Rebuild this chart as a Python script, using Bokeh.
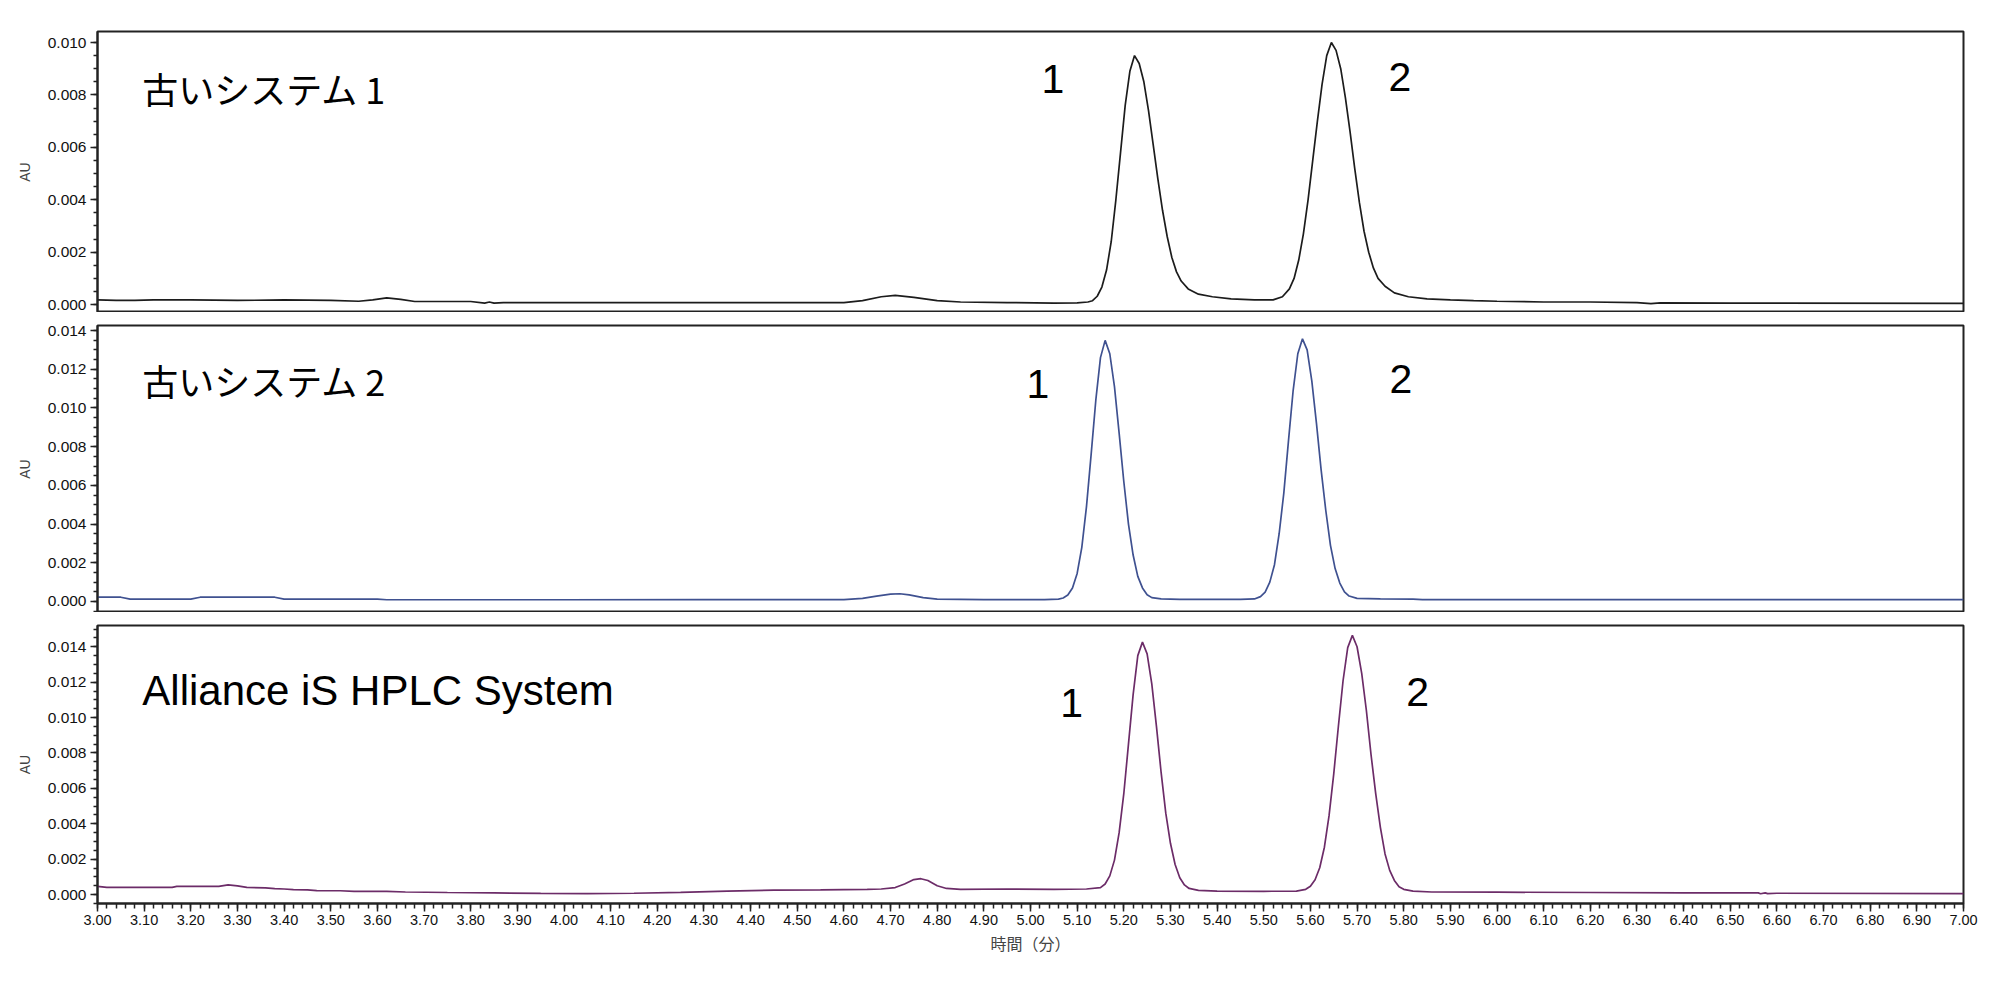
from bokeh.plotting import figure
from bokeh.layouts import column
from bokeh.models import Range1d, SingleIntervalTicker, NumeralTickFormatter, Label
from bokeh.embed import file_html
from bokeh.resources import INLINE

# ---------------- data ----------------
panel_titles = ["古いシステム 1", "古いシステム 2", "Alliance iS HPLC System"]
x_label = "時間（分）"
y_label = "AU"
peak_names = ["1", "2"]

t_old1 = [3.00, 3.04, 3.08, 3.12, 3.20, 3.30, 3.40, 3.50, 3.56, 3.59, 3.62, 3.65, 3.68, 3.80,
          3.83, 3.84, 3.85, 3.87, 4.00, 4.30, 4.60, 4.64, 4.68, 4.71, 4.75, 4.80, 4.85, 4.95,
          5.05, 5.10, 5.123, 5.133, 5.143, 5.153, 5.163, 5.173, 5.183, 5.193, 5.203, 5.213,
          5.223, 5.233, 5.243, 5.253, 5.263, 5.273, 5.283, 5.293, 5.303, 5.313, 5.323, 5.338,
          5.36, 5.39, 5.43, 5.48, 5.52, 5.54, 5.555, 5.565, 5.575, 5.585, 5.595, 5.605, 5.615,
          5.625, 5.635, 5.645, 5.655, 5.665, 5.675, 5.685, 5.695, 5.705, 5.715, 5.725, 5.735,
          5.745, 5.76, 5.78, 5.81, 5.85, 5.90, 5.95, 6.00, 6.10, 6.20, 6.30, 6.33, 6.35, 6.50, 7.00]
au_old1 = [0.00018, 0.00016, 0.00016, 0.00018, 0.00018, 0.00016, 0.00018, 0.00016, 0.00013,
           0.00018, 0.00026, 0.00020, 0.00012, 0.00012, 0.00006, 0.00010, 0.00006, 0.00008,
           0.00008, 0.00008, 0.00008, 0.00015, 0.00030, 0.00035, 0.00028, 0.00015, 0.00010,
           0.00008, 0.00006, 0.00007, 0.00010, 0.00015, 0.00032, 0.00067, 0.00132, 0.00240,
           0.00400, 0.00580, 0.00760, 0.00890, 0.00950, 0.00920, 0.00850, 0.00740, 0.00610,
           0.00480, 0.00360, 0.00260, 0.00180, 0.00125, 0.00090, 0.00060, 0.00040, 0.00030,
           0.00022, 0.00018, 0.00018, 0.00030, 0.00060, 0.00100, 0.00170, 0.00270, 0.00400,
           0.00550, 0.00700, 0.00840, 0.00950, 0.01000, 0.00970, 0.00900, 0.00790, 0.00660,
           0.00520, 0.00390, 0.00280, 0.00200, 0.00140, 0.00100, 0.00070, 0.00045, 0.00030,
           0.00022, 0.00018, 0.00015, 0.00013, 0.00010, 0.00010, 0.00008, 0.00004, 0.00007,
           0.00006, 0.00005]

t_old2 = [3.00, 3.05, 3.07, 3.20, 3.22, 3.38, 3.40, 3.60, 3.62, 4.00, 4.30, 4.60, 4.64, 4.67,
          4.70, 4.72, 4.74, 4.77, 4.80, 4.90, 5.03, 5.06, 5.07, 5.08, 5.09, 5.10, 5.11, 5.12,
          5.13, 5.14, 5.15, 5.16, 5.17, 5.18, 5.19, 5.20, 5.21, 5.22, 5.23, 5.24, 5.25, 5.26,
          5.28, 5.32, 5.45, 5.48, 5.493, 5.503, 5.513, 5.523, 5.533, 5.543, 5.553, 5.563, 5.573,
          5.583, 5.593, 5.603, 5.613, 5.623, 5.633, 5.643, 5.653, 5.663, 5.673, 5.683, 5.70,
          5.75, 5.82, 5.84, 6.30, 7.00]
au_old2 = [0.00022, 0.00022, 0.00012, 0.00012, 0.00022, 0.00022, 0.00012, 0.00012, 0.00009,
           0.00009, 0.00010, 0.00010, 0.00016, 0.00028, 0.00038, 0.00040, 0.00034, 0.00020,
           0.00012, 0.00010, 0.00010, 0.00012, 0.00018, 0.00033, 0.00070, 0.00145, 0.00280,
           0.00490, 0.00760, 0.01040, 0.01260, 0.01349, 0.01280, 0.01110, 0.00870, 0.00620,
           0.00400, 0.00240, 0.00130, 0.00070, 0.00035, 0.00020, 0.00013, 0.00011, 0.00011,
           0.00013, 0.00025, 0.00048, 0.00100, 0.00190, 0.00350, 0.00560, 0.00830, 0.01090,
           0.01280, 0.01357, 0.01300, 0.01140, 0.00920, 0.00680, 0.00470, 0.00290, 0.00170,
           0.00095, 0.00050, 0.00028, 0.00016, 0.00013, 0.00012, 0.00010, 0.00010, 0.00010]

t_new = [3.00, 3.02, 3.16, 3.17, 3.26, 3.28, 3.30, 3.32, 3.36, 3.38, 3.40, 3.42, 3.45, 3.47,
         3.52, 3.55, 3.62, 3.66, 3.75, 3.85, 3.95, 4.05, 4.15, 4.25, 4.35, 4.45, 4.55, 4.65,
         4.68, 4.71, 4.73, 4.75, 4.765, 4.78, 4.80, 4.82, 4.85, 4.95, 5.05, 5.12, 5.15, 5.16,
         5.17, 5.18, 5.19, 5.20, 5.21, 5.22, 5.23, 5.24, 5.25, 5.26, 5.27, 5.28, 5.29, 5.30,
         5.31, 5.32, 5.33, 5.34, 5.36, 5.40, 5.50, 5.57, 5.59, 5.60, 5.61, 5.62, 5.63, 5.64,
         5.65, 5.66, 5.67, 5.68, 5.69, 5.70, 5.71, 5.72, 5.73, 5.74, 5.75, 5.76, 5.77, 5.78,
         5.79, 5.80, 5.82, 5.86, 6.00, 6.20, 6.40, 6.56, 6.565, 6.575, 6.58, 6.60, 7.00]
au_new = [0.00047, 0.00041, 0.00041, 0.00047, 0.00047, 0.00055, 0.00050, 0.00041, 0.00038,
          0.00034, 0.00032, 0.00028, 0.00027, 0.00023, 0.00022, 0.00019, 0.00018, 0.00015,
          0.00012, 0.00010, 0.00007, 0.00006, 0.00008, 0.00013, 0.00020, 0.00025, 0.00027,
          0.00030, 0.00032, 0.00040, 0.00060, 0.00085, 0.00090, 0.00080, 0.00050, 0.00035,
          0.00030, 0.00032, 0.00030, 0.00032, 0.00040, 0.00060, 0.00106, 0.00195, 0.00350,
          0.00570, 0.00850, 0.01130, 0.01350, 0.01426, 0.01360, 0.01190, 0.00950, 0.00690,
          0.00460, 0.00290, 0.00170, 0.00095, 0.00055, 0.00035, 0.00024, 0.00020, 0.00019,
          0.00020, 0.00030, 0.00047, 0.00084, 0.00152, 0.00268, 0.00446, 0.00681, 0.00951,
          0.01208, 0.01395, 0.01464, 0.01400, 0.01250, 0.01040, 0.00790, 0.00570, 0.00380,
          0.00230, 0.00137, 0.00080, 0.00045, 0.00030, 0.00020, 0.00015, 0.00014, 0.00012,
          0.00010, 0.00010, 0.00005, 0.00010, 0.00006, 0.00008, 0.00006]

# peak-label anchor positions (time, AU) per panel
label_t = [[5.048, 5.792], [5.016, 5.794], [5.088, 5.830]]
label_au = [[0.0086, 0.0087], [0.01126, 0.01152], [0.01084, 0.01146]]
title_t = 3.096
title_au = [0.00827, 0.01145, 0.01155]
y_ranges = [(-0.0003, 0.01042), (-0.00057, 0.01426), (-0.0005, 0.0152)]

traces = [(t_old1, au_old1, "#1c1c1c"), (t_old2, au_old2, "#3f5190"), (t_new, au_new, "#6c2c68")]
frame_heights = [281, 287, 278]
tops = [31, 13, 13]

LAT = "Liberation Sans"
JP = "Noto Sans CJK JP"

figs = []
for i in range(3):
    last = (i == 2)
    p = figure(width=1984, frame_width=1866, frame_height=frame_heights[i],
               x_range=Range1d(3.0, 7.0), y_range=Range1d(*y_ranges[i]),
               output_backend="svg", toolbar_location=None,
               x_axis_location="below" if last else None,
               min_border_left=97, min_border_right=21, min_border_top=tops[i],
               min_border_bottom=0)
    p.grid.visible = False
    p.outline_line_color = "#222222"
    p.outline_line_width = 2
    p.background_fill_color = "white"
    p.border_fill_color = "white"

    ya = p.yaxis[0]
    ya.ticker = SingleIntervalTicker(interval=0.002, num_minor_ticks=4)
    ya.formatter = NumeralTickFormatter(format="0.000")
    ya.axis_label = y_label
    ya.axis_label_text_font = LAT
    ya.axis_label_text_font_size = "14px"
    ya.axis_label_text_font_style = "normal"
    ya.axis_label_standoff = 12
    ya.major_label_text_font = LAT
    ya.major_label_text_font_size = "15.5px"
    ya.major_label_text_color = "#111111"
    ya.major_label_standoff = 4
    ya.axis_line_color = "#222222"
    ya.axis_line_width = 2
    ya.major_tick_in = 0
    ya.major_tick_out = 7
    ya.minor_tick_in = 0
    ya.minor_tick_out = 4
    ya.major_tick_line_width = 1.5
    ya.minor_tick_line_width = 1.5
    ya.major_tick_line_color = "#222222"
    ya.minor_tick_line_color = "#222222"

    if last:
        xa = p.xaxis[0]
        xa.ticker = SingleIntervalTicker(interval=0.1, num_minor_ticks=5)
        xa.formatter = NumeralTickFormatter(format="0.00")
        xa.axis_label = x_label
        xa.axis_label_text_font = JP
        xa.axis_label_text_font_size = "16px"
        xa.axis_label_text_font_style = "normal"
        xa.axis_label_standoff = 3
        xa.major_label_text_font = LAT
        xa.major_label_text_font_size = "14.5px"
        xa.major_label_text_color = "#111111"
        xa.major_label_standoff = 3
        xa.axis_line_color = "#222222"
        xa.axis_line_width = 2
        xa.major_tick_in = 0
        xa.major_tick_out = 8
        xa.minor_tick_in = 0
        xa.minor_tick_out = 5
        xa.major_tick_line_width = 1.5
        xa.minor_tick_line_width = 1.5
        xa.major_tick_line_color = "#222222"
        xa.minor_tick_line_color = "#222222"
        p.min_border_bottom = 55

    t, au, col = traces[i]
    p.line(t, au, line_color=col, line_width=1.7)

    # panel title
    p.add_layout(Label(x=title_t, y=title_au[i], text=panel_titles[i],
                       text_font=LAT if last else JP,
                       text_font_size="42px" if last else "36px",
                       text_align="left", text_baseline="alphabetic",
                       text_color="black"))
    # peak labels
    for k in range(2):
        p.add_layout(Label(x=label_t[i][k], y=label_au[i][k], text=peak_names[k],
                           text_font=LAT, text_font_size="41px",
                           text_align="center", text_baseline="alphabetic",
                           text_color="black"))
    figs.append(p)

layout = column(*figs, spacing=0)
open("out.html", "w").write(file_html(layout, INLINE))
